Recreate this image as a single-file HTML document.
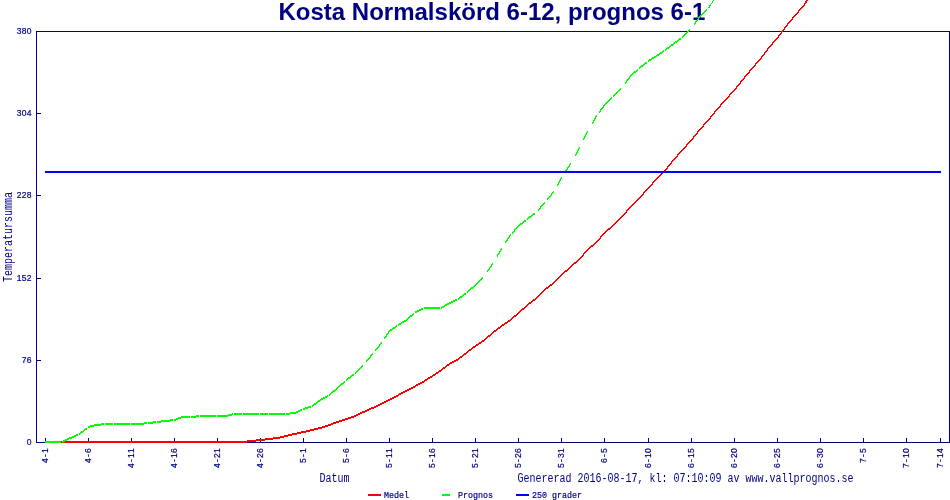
<!DOCTYPE html>
<html><head><meta charset="utf-8"><title>Kosta Normalskörd 6-12, prognos 6-1</title>
<style>
html,body{margin:0;padding:0;background:#fff;}
svg{display:block;}
text{fill:#000080;}
.t{font-family:"Liberation Mono",monospace;font-size:9px;stroke:#000080;stroke-width:0.2px;}
.d{font-family:"Liberation Sans",Arial,sans-serif;font-size:8.5px;stroke:#000080;stroke-width:0.2px;text-anchor:middle;}
.s{font-family:"Liberation Mono",monospace;font-size:12px;}
.h{font-family:"Liberation Sans",Arial,sans-serif;font-weight:bold;font-size:24px;}
</style></head><body>
<svg width="950" height="500" viewBox="0 0 950 500">
<rect width="950" height="500" fill="#fff"/>
<text class="h" x="278.5" y="20">Kosta Normalskörd 6-12, prognos 6-1</text>
<g shape-rendering="crispEdges" fill="#000080">
<rect x="36" y="31" width="914" height="1"/><rect x="36" y="442" width="914" height="1"/><rect x="36" y="31" width="1" height="412"/><rect x="949" y="31" width="1" height="412"/>
<rect x="45" y="438" width="1" height="4"/><rect x="88" y="438" width="1" height="4"/><rect x="131" y="438" width="1" height="4"/><rect x="174" y="438" width="1" height="4"/><rect x="217" y="438" width="1" height="4"/><rect x="260" y="438" width="1" height="4"/><rect x="303" y="438" width="1" height="4"/><rect x="346" y="438" width="1" height="4"/><rect x="389" y="438" width="1" height="4"/><rect x="432" y="438" width="1" height="4"/><rect x="475" y="438" width="1" height="4"/><rect x="518" y="438" width="1" height="4"/><rect x="561" y="438" width="1" height="4"/><rect x="604" y="438" width="1" height="4"/><rect x="648" y="438" width="1" height="4"/><rect x="691" y="438" width="1" height="4"/><rect x="734" y="438" width="1" height="4"/><rect x="777" y="438" width="1" height="4"/><rect x="820" y="438" width="1" height="4"/><rect x="863" y="438" width="1" height="4"/><rect x="906" y="438" width="1" height="4"/><rect x="940" y="438" width="1" height="4"/><rect x="37" y="360" width="4" height="1"/><rect x="37" y="278" width="4" height="1"/><rect x="37" y="195" width="4" height="1"/><rect x="37" y="113" width="4" height="1"/>
</g>
<text class="d" x="29" y="445">0</text><text class="d" x="24 29" y="363">76</text><text class="d" x="19 24 29" y="281">152</text><text class="d" x="19 24 29" y="198">228</text><text class="d" x="19 24 29" y="116">304</text><text class="d" x="19 24 29" y="34">380</text>
<text class="d" x="2.5 7.5 12.5" transform="translate(48,463) rotate(-90)">4-1</text><text class="d" x="2.5 7.5 12.5" transform="translate(91,463) rotate(-90)">4-6</text><text class="d" x="2.5 7.5 12.5 17.5" transform="translate(134,468) rotate(-90)">4-11</text><text class="d" x="2.5 7.5 12.5 17.5" transform="translate(177,468) rotate(-90)">4-16</text><text class="d" x="2.5 7.5 12.5 17.5" transform="translate(220,468) rotate(-90)">4-21</text><text class="d" x="2.5 7.5 12.5 17.5" transform="translate(263,468) rotate(-90)">4-26</text><text class="d" x="2.5 7.5 12.5" transform="translate(306,463) rotate(-90)">5-1</text><text class="d" x="2.5 7.5 12.5" transform="translate(349,463) rotate(-90)">5-6</text><text class="d" x="2.5 7.5 12.5 17.5" transform="translate(392,468) rotate(-90)">5-11</text><text class="d" x="2.5 7.5 12.5 17.5" transform="translate(435,468) rotate(-90)">5-16</text><text class="d" x="2.5 7.5 12.5 17.5" transform="translate(478,468) rotate(-90)">5-21</text><text class="d" x="2.5 7.5 12.5 17.5" transform="translate(521,468) rotate(-90)">5-26</text><text class="d" x="2.5 7.5 12.5 17.5" transform="translate(564,468) rotate(-90)">5-31</text><text class="d" x="2.5 7.5 12.5" transform="translate(607,463) rotate(-90)">6-5</text><text class="d" x="2.5 7.5 12.5 17.5" transform="translate(651,468) rotate(-90)">6-10</text><text class="d" x="2.5 7.5 12.5 17.5" transform="translate(694,468) rotate(-90)">6-15</text><text class="d" x="2.5 7.5 12.5 17.5" transform="translate(737,468) rotate(-90)">6-20</text><text class="d" x="2.5 7.5 12.5 17.5" transform="translate(780,468) rotate(-90)">6-25</text><text class="d" x="2.5 7.5 12.5 17.5" transform="translate(823,468) rotate(-90)">6-30</text><text class="d" x="2.5 7.5 12.5" transform="translate(866,463) rotate(-90)">7-5</text><text class="d" x="2.5 7.5 12.5 17.5" transform="translate(909,468) rotate(-90)">7-10</text><text class="d" x="2.5 7.5 12.5 17.5" transform="translate(943,468) rotate(-90)">7-14</text>
<text class="s" textLength="90" lengthAdjust="spacingAndGlyphs" transform="translate(12,282) rotate(-90)">Temperatursumma</text>
<text class="s" textLength="30" lengthAdjust="spacingAndGlyphs" x="319.5" y="482">Datum</text>
<text class="s" textLength="336" lengthAdjust="spacingAndGlyphs" x="517.5" y="482">Genererad 2016-08-17, kl: 07:10:09 av www.vallprognos.se</text>
<g shape-rendering="crispEdges">
<path fill="#ff0000" d="M45 441v2h1v-2zM46 441v2h1v-2zM47 441v2h1v-2zM48 441v2h1v-2zM49 441v2h1v-2zM50 441v2h1v-2zM51 441v2h1v-2zM52 441v2h1v-2zM53 441v2h1v-2zM54 441v2h1v-2zM55 441v2h1v-2zM56 441v2h1v-2zM57 441v2h1v-2zM58 441v2h1v-2zM59 441v2h1v-2zM60 441v2h1v-2zM61 441v2h1v-2zM62 441v2h1v-2zM63 441v2h1v-2zM64 441v2h1v-2zM65 441v2h1v-2zM66 441v2h1v-2zM67 441v2h1v-2zM68 441v2h1v-2zM69 441v2h1v-2zM70 441v2h1v-2zM71 441v2h1v-2zM72 441v2h1v-2zM73 441v2h1v-2zM74 441v2h1v-2zM75 441v2h1v-2zM76 441v2h1v-2zM77 441v2h1v-2zM78 441v2h1v-2zM79 441v2h1v-2zM80 441v2h1v-2zM81 441v2h1v-2zM82 441v2h1v-2zM83 441v2h1v-2zM84 441v2h1v-2zM85 441v2h1v-2zM86 441v2h1v-2zM87 441v2h1v-2zM88 441v2h1v-2zM89 441v2h1v-2zM90 441v2h1v-2zM91 441v2h1v-2zM92 441v2h1v-2zM93 441v2h1v-2zM94 441v2h1v-2zM95 441v2h1v-2zM96 441v2h1v-2zM97 441v2h1v-2zM98 441v2h1v-2zM99 441v2h1v-2zM100 441v2h1v-2zM101 441v2h1v-2zM102 441v2h1v-2zM103 441v2h1v-2zM104 441v2h1v-2zM105 441v2h1v-2zM106 441v2h1v-2zM107 441v2h1v-2zM108 441v2h1v-2zM109 441v2h1v-2zM110 441v2h1v-2zM111 441v2h1v-2zM112 441v2h1v-2zM113 441v2h1v-2zM114 441v2h1v-2zM115 441v2h1v-2zM116 441v2h1v-2zM117 441v2h1v-2zM118 441v2h1v-2zM119 441v2h1v-2zM120 441v2h1v-2zM121 441v2h1v-2zM122 441v2h1v-2zM123 441v2h1v-2zM124 441v2h1v-2zM125 441v2h1v-2zM126 441v2h1v-2zM127 441v2h1v-2zM128 441v2h1v-2zM129 441v2h1v-2zM130 441v2h1v-2zM131 441v2h1v-2zM132 441v2h1v-2zM133 441v2h1v-2zM134 441v2h1v-2zM135 441v2h1v-2zM136 441v2h1v-2zM137 441v2h1v-2zM138 441v2h1v-2zM139 441v2h1v-2zM140 441v2h1v-2zM141 441v2h1v-2zM142 441v2h1v-2zM143 441v2h1v-2zM144 441v2h1v-2zM145 441v2h1v-2zM146 441v2h1v-2zM147 441v2h1v-2zM148 441v2h1v-2zM149 441v2h1v-2zM150 441v2h1v-2zM151 441v2h1v-2zM152 441v2h1v-2zM153 441v2h1v-2zM154 441v2h1v-2zM155 441v2h1v-2zM156 441v2h1v-2zM157 441v2h1v-2zM158 441v2h1v-2zM159 441v2h1v-2zM160 441v2h1v-2zM161 441v2h1v-2zM162 441v2h1v-2zM163 441v2h1v-2zM164 441v2h1v-2zM165 441v2h1v-2zM166 441v2h1v-2zM167 441v2h1v-2zM168 441v2h1v-2zM169 441v2h1v-2zM170 441v2h1v-2zM171 441v2h1v-2zM172 441v2h1v-2zM173 441v2h1v-2zM174 441v2h1v-2zM175 441v2h1v-2zM176 441v2h1v-2zM177 441v2h1v-2zM178 441v2h1v-2zM179 441v2h1v-2zM180 441v2h1v-2zM181 441v2h1v-2zM182 441v2h1v-2zM183 441v2h1v-2zM184 441v2h1v-2zM185 441v2h1v-2zM186 441v2h1v-2zM187 441v2h1v-2zM188 441v2h1v-2zM189 441v2h1v-2zM190 441v2h1v-2zM191 441v2h1v-2zM192 441v2h1v-2zM193 441v2h1v-2zM194 441v2h1v-2zM195 441v2h1v-2zM196 441v2h1v-2zM197 441v2h1v-2zM198 441v2h1v-2zM199 441v2h1v-2zM200 441v2h1v-2zM201 441v2h1v-2zM202 441v2h1v-2zM203 441v2h1v-2zM204 441v2h1v-2zM205 441v2h1v-2zM206 441v2h1v-2zM207 441v2h1v-2zM208 441v2h1v-2zM209 441v2h1v-2zM210 441v2h1v-2zM211 441v2h1v-2zM212 441v2h1v-2zM213 441v2h1v-2zM214 441v2h1v-2zM215 441v2h1v-2zM216 441v2h1v-2zM217 441v2h1v-2zM218 441v2h1v-2zM219 441v2h1v-2zM220 441v2h1v-2zM221 441v2h1v-2zM222 441v2h1v-2zM223 441v2h1v-2zM224 441v2h1v-2zM225 441v2h1v-2zM226 441v2h1v-2zM227 441v2h1v-2zM228 441v2h1v-2zM229 441v2h1v-2zM230 441v2h1v-2zM231 441v2h1v-2zM232 441v2h1v-2zM233 441v2h1v-2zM234 441v2h1v-2zM235 441v2h1v-2zM236 441v2h1v-2zM237 441v2h1v-2zM238 441v2h1v-2zM239 441v2h1v-2zM240 441v2h1v-2zM241 441v2h1v-2zM242 441v2h1v-2zM243 441v2h1v-2zM244 441v2h1v-2zM245 441v2h1v-2zM246 441v2h1v-2zM247 440v2h1v-2zM248 440v2h1v-2zM249 440v2h1v-2zM250 440v2h1v-2zM251 440v2h1v-2zM252 440v2h1v-2zM253 440v2h1v-2zM254 440v2h1v-2zM255 440v2h1v-2zM256 439v2h1v-2zM257 439v2h1v-2zM258 439v2h1v-2zM259 439v2h1v-2zM260 439v2h1v-2zM261 439v2h1v-2zM262 439v2h1v-2zM263 439v2h1v-2zM264 439v2h1v-2zM265 438v2h1v-2zM266 438v2h1v-2zM267 438v2h1v-2zM268 438v2h1v-2zM269 438v2h1v-2zM270 438v2h1v-2zM271 438v2h1v-2zM272 438v2h1v-2zM273 437v2h1v-2zM274 437v2h1v-2zM275 437v2h1v-2zM276 437v2h1v-2zM277 437v2h1v-2zM278 437v2h1v-2zM279 437v2h1v-2zM280 436v2h1v-2zM281 436v2h1v-2zM282 436v2h1v-2zM283 436v2h1v-2zM284 435v2h1v-2zM285 435v2h1v-2zM286 435v2h1v-2zM287 435v2h1v-2zM288 434v2h1v-2zM289 434v2h1v-2zM290 434v2h1v-2zM291 434v2h1v-2zM292 433v2h1v-2zM293 433v2h1v-2zM294 433v2h1v-2zM295 433v2h1v-2zM296 433v2h1v-2zM297 432v2h1v-2zM298 432v2h1v-2zM299 432v2h1v-2zM300 432v2h1v-2zM301 431v2h1v-2zM302 431v2h1v-2zM303 431v2h1v-2zM304 431v2h1v-2zM305 431v2h1v-2zM306 430v2h1v-2zM307 430v2h1v-2zM308 430v2h1v-2zM309 430v2h1v-2zM310 429v2h1v-2zM311 429v2h1v-2zM312 429v2h1v-2zM313 429v2h1v-2zM314 428v2h1v-2zM315 428v2h1v-2zM316 428v2h1v-2zM317 428v2h1v-2zM318 427v2h1v-2zM319 427v2h1v-2zM320 427v2h1v-2zM321 427v2h1v-2zM322 426v2h1v-2zM323 426v2h1v-2zM324 426v2h1v-2zM325 425v2h1v-2zM326 425v2h1v-2zM327 425v2h1v-2zM328 424v2h1v-2zM329 424v2h1v-2zM330 424v2h1v-2zM331 423v2h1v-2zM332 423v2h1v-2zM333 422v2h1v-2zM334 422v2h1v-2zM335 422v2h1v-2zM336 421v2h1v-2zM337 421v2h1v-2zM338 421v2h1v-2zM339 420v2h1v-2zM340 420v2h1v-2zM341 420v2h1v-2zM342 419v2h1v-2zM343 419v2h1v-2zM344 419v2h1v-2zM345 418v2h1v-2zM346 418v2h1v-2zM347 418v2h1v-2zM348 417v2h1v-2zM349 417v2h1v-2zM350 417v2h1v-2zM351 416v2h1v-2zM352 416v2h1v-2zM353 416v2h1v-2zM354 415v2h1v-2zM355 415v2h1v-2zM356 414v2h1v-2zM357 414v2h1v-2zM358 413v2h1v-2zM359 413v2h1v-2zM360 412v2h1v-2zM361 412v2h1v-2zM362 411v2h1v-2zM363 411v2h1v-2zM364 411v2h1v-2zM365 410v2h1v-2zM366 410v2h1v-2zM367 409v2h1v-2zM368 409v2h1v-2zM369 408v2h1v-2zM370 408v2h1v-2zM371 407v2h1v-2zM372 407v2h1v-2zM373 407v2h1v-2zM374 406v2h1v-2zM375 406v2h1v-2zM376 405v2h1v-2zM377 405v2h1v-2zM378 404v2h1v-2zM379 404v2h1v-2zM380 403v2h1v-2zM381 403v2h1v-2zM382 402v2h1v-2zM383 402v2h1v-2zM384 401v2h1v-2zM385 401v2h1v-2zM386 400v2h1v-2zM387 400v2h1v-2zM388 399v2h1v-2zM389 399v2h1v-2zM390 398v2h1v-2zM391 398v2h1v-2zM392 397v2h1v-2zM393 397v2h1v-2zM394 396v2h1v-2zM395 396v2h1v-2zM396 395v2h1v-2zM397 395v2h1v-2zM398 394v2h1v-2zM399 393v2h1v-2zM400 393v2h1v-2zM401 392v2h1v-2zM402 392v2h1v-2zM403 391v2h1v-2zM404 391v2h1v-2zM405 390v2h1v-2zM406 390v2h1v-2zM407 389v2h1v-2zM408 389v2h1v-2zM409 388v2h1v-2zM410 388v2h1v-2zM411 387v2h1v-2zM412 387v2h1v-2zM413 386v2h1v-2zM414 386v2h1v-2zM415 385v2h1v-2zM416 384v2h1v-2zM417 384v2h1v-2zM418 383v2h1v-2zM419 383v2h1v-2zM420 382v2h1v-2zM421 382v2h1v-2zM422 381v2h1v-2zM423 381v2h1v-2zM424 380v2h1v-2zM425 379v2h1v-2zM426 379v2h1v-2zM427 378v2h1v-2zM428 377v2h1v-2zM429 377v2h1v-2zM430 376v2h1v-2zM431 376v2h1v-2zM432 375v2h1v-2zM433 374v2h1v-2zM434 374v2h1v-2zM435 373v2h1v-2zM436 372v2h1v-2zM437 372v2h1v-2zM438 371v2h1v-2zM439 370v2h1v-2zM440 370v2h1v-2zM441 369v2h1v-2zM442 368v2h1v-2zM443 367v2h1v-2zM444 367v2h1v-2zM445 366v2h1v-2zM446 365v2h1v-2zM447 364v2h1v-2zM448 364v2h1v-2zM449 363v2h1v-2zM450 362v2h1v-2zM451 362v2h1v-2zM452 361v2h1v-2zM453 361v2h1v-2zM454 360v2h1v-2zM455 360v2h1v-2zM456 359v2h1v-2zM457 359v2h1v-2zM458 358v2h1v-2zM459 357v2h1v-2zM460 356v2h1v-2zM461 356v2h1v-2zM462 355v2h1v-2zM463 354v2h1v-2zM464 353v2h1v-2zM465 353v2h1v-2zM466 352v2h1v-2zM467 351v2h1v-2zM468 350v2h1v-2zM469 349v2h1v-2zM470 349v2h1v-2zM471 348v2h1v-2zM472 347v2h1v-2zM473 346v2h1v-2zM474 346v2h1v-2zM475 345v2h1v-2zM476 344v2h1v-2zM477 344v2h1v-2zM478 343v2h1v-2zM479 342v2h1v-2zM480 342v2h1v-2zM481 341v2h1v-2zM482 340v2h1v-2zM483 340v2h1v-2zM484 339v2h1v-2zM485 338v2h1v-2zM486 337v2h1v-2zM487 336v2h1v-2zM488 335v2h1v-2zM489 335v2h1v-2zM490 334v2h1v-2zM491 333v2h1v-2zM492 332v2h1v-2zM493 331v2h1v-2zM494 330v2h1v-2zM495 330v2h1v-2zM496 329v2h1v-2zM497 328v2h1v-2zM498 327v2h1v-2zM499 327v2h1v-2zM500 326v2h1v-2zM501 325v2h1v-2zM502 324v2h1v-2zM503 324v2h1v-2zM504 323v2h1v-2zM505 322v2h1v-2zM506 322v2h1v-2zM507 321v2h1v-2zM508 320v2h1v-2zM509 320v2h1v-2zM510 319v2h1v-2zM511 318v2h1v-2zM512 317v2h1v-2zM513 316v2h1v-2zM514 315v2h1v-2zM515 315v2h1v-2zM516 314v2h1v-2zM517 313v2h1v-2zM518 312v2h1v-2zM519 311v2h1v-2zM520 310v2h1v-2zM521 309v2h1v-2zM522 308v2h1v-2zM523 308v2h1v-2zM524 307v2h1v-2zM525 306v2h1v-2zM526 305v2h1v-2zM527 304v2h1v-2zM528 303v2h1v-2zM529 302v2h1v-2zM530 302v2h1v-2zM531 301v2h1v-2zM532 300v2h1v-2zM533 299v2h1v-2zM534 299v2h1v-2zM535 298v2h1v-2zM536 297v2h1v-2zM537 296v2h1v-2zM538 295v2h1v-2zM539 294v2h1v-2zM540 293v2h1v-2zM541 292v2h1v-2zM542 291v2h1v-2zM543 290v2h1v-2zM544 289v2h1v-2zM545 288v2h1v-2zM546 287v2h1v-2zM547 287v2h1v-2zM548 286v2h1v-2zM549 285v2h1v-2zM550 284v2h1v-2zM551 284v2h1v-2zM552 283v2h1v-2zM553 282v2h1v-2zM554 281v2h1v-2zM555 280v2h1v-2zM556 279v2h1v-2zM557 278v2h1v-2zM558 277v2h1v-2zM559 276v2h1v-2zM560 275v2h1v-2zM561 274v2h1v-2zM562 273v2h1v-2zM563 272v2h1v-2zM564 271v2h1v-2zM565 270v2h1v-2zM566 270v2h1v-2zM567 269v2h1v-2zM568 268v2h1v-2zM569 267v2h1v-2zM570 266v2h1v-2zM571 265v2h1v-2zM572 264v2h1v-2zM573 263v2h1v-2zM574 262v2h1v-2zM575 262v2h1v-2zM576 261v2h1v-2zM577 260v2h1v-2zM578 259v2h1v-2zM579 258v2h1v-2zM580 257v2h1v-2zM581 256v2h1v-2zM582 255v2h1v-2zM583 253v3h1v-3zM584 252v2h1v-2zM585 251v2h1v-2zM586 250v2h1v-2zM587 249v2h1v-2zM588 248v2h1v-2zM589 247v2h1v-2zM590 246v2h1v-2zM591 245v2h1v-2zM592 245v2h1v-2zM593 244v2h1v-2zM594 243v2h1v-2zM595 242v2h1v-2zM596 241v2h1v-2zM597 240v2h1v-2zM598 239v2h1v-2zM599 238v2h1v-2zM600 236v3h1v-3zM601 235v2h1v-2zM602 234v2h1v-2zM603 233v2h1v-2zM604 232v2h1v-2zM605 231v2h1v-2zM606 230v2h1v-2zM607 229v2h1v-2zM608 228v2h1v-2zM609 228v2h1v-2zM610 227v2h1v-2zM611 226v2h1v-2zM612 225v2h1v-2zM613 224v2h1v-2zM614 223v2h1v-2zM615 222v2h1v-2zM616 221v2h1v-2zM617 220v2h1v-2zM618 219v2h1v-2zM619 218v2h1v-2zM620 217v2h1v-2zM621 216v2h1v-2zM622 215v2h1v-2zM623 214v2h1v-2zM624 213v2h1v-2zM625 212v2h1v-2zM626 210v3h1v-3zM627 209v2h1v-2zM628 208v2h1v-2zM629 207v2h1v-2zM630 206v2h1v-2zM631 205v2h1v-2zM632 204v2h1v-2zM633 203v2h1v-2zM634 202v2h1v-2zM635 201v2h1v-2zM636 200v2h1v-2zM637 199v2h1v-2zM638 198v2h1v-2zM639 197v2h1v-2zM640 196v2h1v-2zM641 195v2h1v-2zM642 194v2h1v-2zM643 192v3h1v-3zM644 191v2h1v-2zM645 190v2h1v-2zM646 189v2h1v-2zM647 188v2h1v-2zM648 187v2h1v-2zM649 186v2h1v-2zM650 185v2h1v-2zM651 184v2h1v-2zM652 182v3h1v-3zM653 181v2h1v-2zM654 180v2h1v-2zM655 179v2h1v-2zM656 178v2h1v-2zM657 177v2h1v-2zM658 176v2h1v-2zM659 175v2h1v-2zM660 174v2h1v-2zM661 173v2h1v-2zM662 172v2h1v-2zM663 171v2h1v-2zM664 170v2h1v-2zM665 169v2h1v-2zM666 168v2h1v-2zM667 166v3h1v-3zM668 165v2h1v-2zM669 164v2h1v-2zM670 163v2h1v-2zM671 161v3h1v-3zM672 160v2h1v-2zM673 159v2h1v-2zM674 158v2h1v-2zM675 157v2h1v-2zM676 156v2h1v-2zM677 154v3h1v-3zM678 153v2h1v-2zM679 152v2h1v-2zM680 151v2h1v-2zM681 150v2h1v-2zM682 149v2h1v-2zM683 148v2h1v-2zM684 147v2h1v-2zM685 146v2h1v-2zM686 144v3h1v-3zM687 143v2h1v-2zM688 142v2h1v-2zM689 141v2h1v-2zM690 140v2h1v-2zM691 139v2h1v-2zM692 138v2h1v-2zM693 136v3h1v-3zM694 135v2h1v-2zM695 134v2h1v-2zM696 133v2h1v-2zM697 131v3h1v-3zM698 130v2h1v-2zM699 129v2h1v-2zM700 128v2h1v-2zM701 127v2h1v-2zM702 126v2h1v-2zM703 124v3h1v-3zM704 123v2h1v-2zM705 122v2h1v-2zM706 121v2h1v-2zM707 120v2h1v-2zM708 119v2h1v-2zM709 118v2h1v-2zM710 116v3h1v-3zM711 115v2h1v-2zM712 114v2h1v-2zM713 113v2h1v-2zM714 111v3h1v-3zM715 110v2h1v-2zM716 109v2h1v-2zM717 108v2h1v-2zM718 107v2h1v-2zM719 106v2h1v-2zM720 104v3h1v-3zM721 103v2h1v-2zM722 102v2h1v-2zM723 101v2h1v-2zM724 100v2h1v-2zM725 99v2h1v-2zM726 98v2h1v-2zM727 97v2h1v-2zM728 96v2h1v-2zM729 94v3h1v-3zM730 93v2h1v-2zM731 92v2h1v-2zM732 91v2h1v-2zM733 90v2h1v-2zM734 89v2h1v-2zM735 88v2h1v-2zM736 86v3h1v-3zM737 85v2h1v-2zM738 84v2h1v-2zM739 83v2h1v-2zM740 81v3h1v-3zM741 80v2h1v-2zM742 79v2h1v-2zM743 78v2h1v-2zM744 76v3h1v-3zM745 75v2h1v-2zM746 74v2h1v-2zM747 73v2h1v-2zM748 72v2h1v-2zM749 70v3h1v-3zM750 69v2h1v-2zM751 68v2h1v-2zM752 67v2h1v-2zM753 66v2h1v-2zM754 65v2h1v-2zM755 63v3h1v-3zM756 62v2h1v-2zM757 61v2h1v-2zM758 60v2h1v-2zM759 59v2h1v-2zM760 58v2h1v-2zM761 56v3h1v-3zM762 55v2h1v-2zM763 54v2h1v-2zM764 52v3h1v-3zM765 51v2h1v-2zM766 50v2h1v-2zM767 48v3h1v-3zM768 47v2h1v-2zM769 46v2h1v-2zM770 45v2h1v-2zM771 44v2h1v-2zM772 42v3h1v-3zM773 41v2h1v-2zM774 40v2h1v-2zM775 39v2h1v-2zM776 38v2h1v-2zM777 37v2h1v-2zM778 35v3h1v-3zM779 34v2h1v-2zM780 33v2h1v-2zM781 31v3h1v-3zM782 30v2h1v-2zM783 29v2h1v-2zM784 27v3h1v-3zM785 26v2h1v-2zM786 25v2h1v-2zM787 23v3h1v-3zM788 22v2h1v-2zM789 21v2h1v-2zM790 20v2h1v-2zM791 19v2h1v-2zM792 17v3h1v-3zM793 16v2h1v-2zM794 15v2h1v-2zM795 14v2h1v-2zM796 13v2h1v-2zM797 12v2h1v-2zM798 10v3h1v-3zM799 9v2h1v-2zM800 8v2h1v-2zM801 7v2h1v-2zM802 6v2h1v-2zM803 5v2h1v-2zM804 3v3h1v-3zM805 1v3h1v-3zM806 0v3h1v-3zM807 0v1h1v-1z"/>
<path fill="#00ff00" d="M45 441v2h1v-2zM46 441v2h1v-2zM47 441v2h1v-2zM48 441v2h1v-2zM49 441v2h1v-2zM50 441v2h1v-2zM51 441v2h1v-2zM52 441v2h1v-2zM53 441v2h1v-2zM54 441v2h1v-2zM55 441v2h1v-2zM56 441v2h1v-2zM57 441v2h1v-2zM58 441v2h1v-2zM59 441v2h1v-2zM60 441v2h1v-2zM62 441v2h1v-2zM63 440v2h1v-2zM64 440v2h1v-2zM65 439v2h1v-2zM66 439v2h1v-2zM67 438v2h1v-2zM68 438v2h1v-2zM69 437v2h1v-2zM70 437v2h1v-2zM71 437v2h1v-2zM72 436v2h1v-2zM73 436v2h1v-2zM74 435v2h1v-2zM75 435v2h1v-2zM76 434v2h1v-2zM77 434v2h1v-2zM79 433v2h1v-2zM80 432v2h1v-2zM81 431v2h1v-2zM82 431v2h1v-2zM83 430v2h1v-2zM84 429v2h1v-2zM85 428v2h1v-2zM86 428v2h1v-2zM88 426v2h1v-2zM89 426v2h1v-2zM90 425v2h1v-2zM91 425v2h1v-2zM92 425v2h1v-2zM93 425v2h1v-2zM94 424v2h1v-2zM95 424v2h1v-2zM96 424v2h1v-2zM97 424v2h1v-2zM98 424v2h1v-2zM99 424v2h1v-2zM100 424v2h1v-2zM101 423v2h1v-2zM102 423v2h1v-2zM103 423v2h1v-2zM105 423v2h1v-2zM106 423v2h1v-2zM107 423v2h1v-2zM108 423v2h1v-2zM109 423v2h1v-2zM110 423v2h1v-2zM111 423v2h1v-2zM112 423v2h1v-2zM114 423v2h1v-2zM115 423v2h1v-2zM116 423v2h1v-2zM117 423v2h1v-2zM118 423v2h1v-2zM119 423v2h1v-2zM120 423v2h1v-2zM121 423v2h1v-2zM122 423v2h1v-2zM123 423v2h1v-2zM124 423v2h1v-2zM125 423v2h1v-2zM126 423v2h1v-2zM127 423v2h1v-2zM128 423v2h1v-2zM129 423v2h1v-2zM131 423v2h1v-2zM132 423v2h1v-2zM133 423v2h1v-2zM134 423v2h1v-2zM135 423v2h1v-2zM136 423v2h1v-2zM137 423v2h1v-2zM138 423v2h1v-2zM139 423v2h1v-2zM140 423v2h1v-2zM141 423v2h1v-2zM142 423v2h1v-2zM143 423v2h1v-2zM144 422v2h1v-2zM145 422v2h1v-2zM146 422v2h1v-2zM148 422v2h1v-2zM149 422v2h1v-2zM150 422v2h1v-2zM151 422v2h1v-2zM152 422v2h1v-2zM153 421v2h1v-2zM154 421v2h1v-2zM155 421v2h1v-2zM157 421v2h1v-2zM158 421v2h1v-2zM159 421v2h1v-2zM160 421v2h1v-2zM161 420v2h1v-2zM162 420v2h1v-2zM163 420v2h1v-2zM164 420v2h1v-2zM165 420v2h1v-2zM166 420v2h1v-2zM167 420v2h1v-2zM168 420v2h1v-2zM169 420v2h1v-2zM170 419v2h1v-2zM171 419v2h1v-2zM172 419v2h1v-2zM174 419v2h1v-2zM175 419v2h1v-2zM176 418v2h1v-2zM177 418v2h1v-2zM178 417v2h1v-2zM179 417v2h1v-2zM180 417v2h1v-2zM181 416v2h1v-2zM182 416v2h1v-2zM183 416v2h1v-2zM184 416v2h1v-2zM185 416v2h1v-2zM186 416v2h1v-2zM187 416v2h1v-2zM188 416v2h1v-2zM189 416v2h1v-2zM191 416v2h1v-2zM192 416v2h1v-2zM193 416v2h1v-2zM194 416v2h1v-2zM195 416v2h1v-2zM196 415v2h1v-2zM197 415v2h1v-2zM198 415v2h1v-2zM200 415v2h1v-2zM201 415v2h1v-2zM202 415v2h1v-2zM203 415v2h1v-2zM204 415v2h1v-2zM205 415v2h1v-2zM206 415v2h1v-2zM207 415v2h1v-2zM208 415v2h1v-2zM209 415v2h1v-2zM210 415v2h1v-2zM211 415v2h1v-2zM212 415v2h1v-2zM213 415v2h1v-2zM214 415v2h1v-2zM215 415v2h1v-2zM217 415v2h1v-2zM218 415v2h1v-2zM219 415v2h1v-2zM220 415v2h1v-2zM221 415v2h1v-2zM222 415v2h1v-2zM223 415v2h1v-2zM224 415v2h1v-2zM225 415v2h1v-2zM226 415v2h1v-2zM227 415v2h1v-2zM228 414v2h1v-2zM229 414v2h1v-2zM230 414v2h1v-2zM231 414v2h1v-2zM232 413v2h1v-2zM234 413v2h1v-2zM235 413v2h1v-2zM236 413v2h1v-2zM237 413v2h1v-2zM238 413v2h1v-2zM239 413v2h1v-2zM240 413v2h1v-2zM241 413v2h1v-2zM243 413v2h1v-2zM244 413v2h1v-2zM245 413v2h1v-2zM246 413v2h1v-2zM247 413v2h1v-2zM248 413v2h1v-2zM249 413v2h1v-2zM250 413v2h1v-2zM251 413v2h1v-2zM252 413v2h1v-2zM253 413v2h1v-2zM254 413v2h1v-2zM255 413v2h1v-2zM256 413v2h1v-2zM257 413v2h1v-2zM258 413v2h1v-2zM260 413v2h1v-2zM261 413v2h1v-2zM262 413v2h1v-2zM263 413v2h1v-2zM264 413v2h1v-2zM265 413v2h1v-2zM266 413v2h1v-2zM267 413v2h1v-2zM269 413v2h1v-2zM270 413v2h1v-2zM271 413v2h1v-2zM272 413v2h1v-2zM273 413v2h1v-2zM274 413v2h1v-2zM275 413v2h1v-2zM276 413v2h1v-2zM277 413v2h1v-2zM278 413v2h1v-2zM279 413v2h1v-2zM280 413v2h1v-2zM281 413v2h1v-2zM282 413v2h1v-2zM283 413v2h1v-2zM284 413v2h1v-2zM286 413v2h1v-2zM287 413v2h1v-2zM288 413v2h1v-2zM289 413v2h1v-2zM290 412v2h1v-2zM291 412v2h1v-2zM292 412v2h1v-2zM293 412v2h1v-2zM294 412v2h1v-2zM295 412v2h1v-2zM296 411v2h1v-2zM297 411v2h1v-2zM298 410v2h1v-2zM299 410v2h1v-2zM300 409v2h1v-2zM301 409v2h1v-2zM303 408v2h1v-2zM304 408v2h1v-2zM305 407v2h1v-2zM306 407v2h1v-2zM307 407v2h1v-2zM308 406v2h1v-2zM309 406v2h1v-2zM310 406v2h1v-2zM312 405v2h1v-2zM313 404v2h1v-2zM314 403v2h1v-2zM315 403v2h1v-2zM316 402v2h1v-2zM317 401v2h1v-2zM318 400v2h1v-2zM319 400v2h1v-2zM320 399v2h1v-2zM321 398v2h1v-2zM322 398v2h1v-2zM323 397v2h1v-2zM324 397v2h1v-2zM325 396v2h1v-2zM326 396v2h1v-2zM327 395v2h1v-2zM329 394v2h1v-2zM330 393v2h1v-2zM331 392v2h1v-2zM332 391v2h1v-2zM333 390v2h1v-2zM334 390v2h1v-2zM335 389v2h1v-2zM336 388v2h1v-2zM337 387v2h1v-2zM338 386v2h1v-2zM339 385v2h1v-2zM340 384v2h1v-2zM341 383v2h1v-2zM342 383v2h1v-2zM343 382v2h1v-2zM344 381v2h1v-2zM346 379v2h1v-2zM347 378v2h1v-2zM348 377v2h1v-2zM349 377v2h1v-2zM350 376v2h1v-2zM351 375v2h1v-2zM352 374v2h1v-2zM353 374v2h1v-2zM355 372v2h1v-2zM356 371v2h1v-2zM357 370v2h1v-2zM358 369v2h1v-2zM359 368v2h1v-2zM360 367v2h1v-2zM361 366v2h1v-2zM362 365v2h1v-2zM366 360v2h1v-2zM367 359v2h1v-2zM368 358v2h1v-2zM369 357v2h1v-2zM370 355v3h1v-3zM371 354v2h1v-2zM372 353v2h1v-2zM375 349v2h1v-2zM376 348v2h1v-2zM377 347v2h1v-2zM378 346v2h1v-2zM379 344v3h1v-3zM380 343v2h1v-2zM381 342v2h1v-2zM384 337v2h1v-2zM385 336v2h1v-2zM386 334v3h1v-3zM387 333v2h1v-2zM388 331v3h1v-3zM389 330v2h1v-2zM390 329v2h1v-2zM391 329v2h1v-2zM392 328v2h1v-2zM393 327v2h1v-2zM394 327v2h1v-2zM395 326v2h1v-2zM396 325v2h1v-2zM398 324v2h1v-2zM399 323v2h1v-2zM400 323v2h1v-2zM401 322v2h1v-2zM402 321v2h1v-2zM403 321v2h1v-2zM404 320v2h1v-2zM405 320v2h1v-2zM406 319v2h1v-2zM407 318v2h1v-2zM408 317v2h1v-2zM409 316v2h1v-2zM410 315v2h1v-2zM411 315v2h1v-2zM412 314v2h1v-2zM413 313v2h1v-2zM415 311v2h1v-2zM416 311v2h1v-2zM417 310v2h1v-2zM418 310v2h1v-2zM419 309v2h1v-2zM420 309v2h1v-2zM421 308v2h1v-2zM422 308v2h1v-2zM424 307v2h1v-2zM425 307v2h1v-2zM426 307v2h1v-2zM427 307v2h1v-2zM428 307v2h1v-2zM429 307v2h1v-2zM430 307v2h1v-2zM431 307v2h1v-2zM432 307v2h1v-2zM433 307v2h1v-2zM434 307v2h1v-2zM435 307v2h1v-2zM436 307v2h1v-2zM437 307v2h1v-2zM438 307v2h1v-2zM439 307v2h1v-2zM441 307v2h1v-2zM442 306v2h1v-2zM443 306v2h1v-2zM444 305v2h1v-2zM445 304v2h1v-2zM446 304v2h1v-2zM447 303v2h1v-2zM448 303v2h1v-2zM449 302v2h1v-2zM450 302v2h1v-2zM451 301v2h1v-2zM452 301v2h1v-2zM453 300v2h1v-2zM454 300v2h1v-2zM455 299v2h1v-2zM456 299v2h1v-2zM458 298v2h1v-2zM459 297v2h1v-2zM460 296v2h1v-2zM461 296v2h1v-2zM462 295v2h1v-2zM463 294v2h1v-2zM464 293v2h1v-2zM465 293v2h1v-2zM467 291v2h1v-2zM468 290v2h1v-2zM469 289v2h1v-2zM470 288v2h1v-2zM471 287v2h1v-2zM472 287v2h1v-2zM473 286v2h1v-2zM474 285v2h1v-2zM475 284v2h1v-2zM476 283v2h1v-2zM477 282v2h1v-2zM478 281v2h1v-2zM479 280v2h1v-2zM480 279v2h1v-2zM481 278v2h1v-2zM482 277v2h1v-2zM487 270v2h1v-2zM488 269v2h1v-2zM489 267v3h1v-3zM490 266v2h1v-2zM491 264v3h1v-3zM492 263v2h1v-2zM497 254v3h1v-3zM498 253v2h1v-2zM499 251v3h1v-3zM500 249v3h1v-3zM501 248v2h1v-2zM505 241v2h1v-2zM506 240v2h1v-2zM507 238v3h1v-3zM508 237v2h1v-2zM509 235v3h1v-3zM510 234v2h1v-2zM512 232v2h1v-2zM513 231v2h1v-2zM514 229v3h1v-3zM515 228v2h1v-2zM516 227v2h1v-2zM517 226v2h1v-2zM518 225v2h1v-2zM519 224v2h1v-2zM520 223v2h1v-2zM521 223v2h1v-2zM522 222v2h1v-2zM523 221v2h1v-2zM524 220v2h1v-2zM525 220v2h1v-2zM527 218v2h1v-2zM528 217v2h1v-2zM529 216v2h1v-2zM530 216v2h1v-2zM531 215v2h1v-2zM532 214v2h1v-2zM533 213v2h1v-2zM534 213v2h1v-2zM538 209v2h1v-2zM539 208v2h1v-2zM540 206v3h1v-3zM541 205v2h1v-2zM542 204v2h1v-2zM543 203v2h1v-2zM544 202v2h1v-2zM547 198v2h1v-2zM548 197v2h1v-2zM549 196v2h1v-2zM550 195v2h1v-2zM551 193v3h1v-3zM552 192v2h1v-2zM553 191v2h1v-2zM557 184v2h1v-2zM558 182v3h1v-3zM559 180v3h1v-3zM560 178v3h1v-3zM561 177v2h1v-2zM565 170v2h1v-2zM566 169v2h1v-2zM567 167v3h1v-3zM568 166v2h1v-2zM569 164v3h1v-3zM570 163v2h1v-2zM575 154v2h1v-2zM576 152v3h1v-3zM577 150v3h1v-3zM578 148v3h1v-3zM579 147v2h1v-2zM583 138v2h1v-2zM584 136v3h1v-3zM585 134v3h1v-3zM586 132v3h1v-3zM587 131v2h1v-2zM592 122v2h1v-2zM593 120v3h1v-3zM594 118v3h1v-3zM595 116v3h1v-3zM596 115v2h1v-2zM599 111v2h1v-2zM600 109v3h1v-3zM601 108v2h1v-2zM602 107v2h1v-2zM603 105v3h1v-3zM604 104v2h1v-2zM605 103v2h1v-2zM606 102v2h1v-2zM607 101v2h1v-2zM608 100v2h1v-2zM609 99v2h1v-2zM610 98v2h1v-2zM611 97v2h1v-2zM613 95v2h1v-2zM614 94v2h1v-2zM615 93v2h1v-2zM616 92v2h1v-2zM617 91v2h1v-2zM618 90v2h1v-2zM619 89v2h1v-2zM620 88v2h1v-2zM625 82v2h1v-2zM626 80v3h1v-3zM627 79v2h1v-2zM628 78v2h1v-2zM629 76v3h1v-3zM630 75v2h1v-2zM631 74v2h1v-2zM632 73v2h1v-2zM633 72v2h1v-2zM634 71v2h1v-2zM635 71v2h1v-2zM636 70v2h1v-2zM637 69v2h1v-2zM639 67v2h1v-2zM640 66v2h1v-2zM641 65v2h1v-2zM642 65v2h1v-2zM643 64v2h1v-2zM644 63v2h1v-2zM645 62v2h1v-2zM646 62v2h1v-2zM648 60v2h1v-2zM649 59v2h1v-2zM650 59v2h1v-2zM651 58v2h1v-2zM652 57v2h1v-2zM653 57v2h1v-2zM654 56v2h1v-2zM655 56v2h1v-2zM656 55v2h1v-2zM657 54v2h1v-2zM658 54v2h1v-2zM659 53v2h1v-2zM660 52v2h1v-2zM661 52v2h1v-2zM662 51v2h1v-2zM663 50v2h1v-2zM665 49v2h1v-2zM666 48v2h1v-2zM667 47v2h1v-2zM668 47v2h1v-2zM669 46v2h1v-2zM670 45v2h1v-2zM671 44v2h1v-2zM672 44v2h1v-2zM673 43v2h1v-2zM674 42v2h1v-2zM675 41v2h1v-2zM676 41v2h1v-2zM677 40v2h1v-2zM678 39v2h1v-2zM679 38v2h1v-2zM680 38v2h1v-2zM682 36v2h1v-2zM683 35v2h1v-2zM684 34v2h1v-2zM685 33v2h1v-2zM686 32v2h1v-2zM687 31v2h1v-2zM688 30v2h1v-2zM689 29v2h1v-2zM694 23v2h1v-2zM695 21v3h1v-3zM696 20v2h1v-2zM697 19v2h1v-2zM698 17v3h1v-3zM699 16v2h1v-2zM700 15v2h1v-2zM701 14v2h1v-2zM702 13v2h1v-2zM703 12v2h1v-2zM704 11v2h1v-2zM705 10v2h1v-2zM706 9v2h1v-2zM708 7v1h1v-1zM709 5v3h1v-3zM710 4v2h1v-2zM711 3v1h1v-1zM712 1v2h1v-2zM713 0v1h1v-1z"/>
<rect fill="#0000ff" x="45" y="171" width="896" height="2"/>
<rect fill="#ff0000" x="368" y="494" width="13" height="2"/><rect fill="#00ff00" x="442" y="494" width="8" height="2"/><rect fill="#0000ff" x="516" y="494" width="13" height="2"/>
</g>
<text class="t" textLength="25" lengthAdjust="spacingAndGlyphs" x="384" y="498">Medel</text><text class="t" textLength="35" lengthAdjust="spacingAndGlyphs" x="458" y="498">Prognos</text><text class="t" textLength="50" lengthAdjust="spacingAndGlyphs" x="532" y="498">250 grader</text>
</svg></body></html>
